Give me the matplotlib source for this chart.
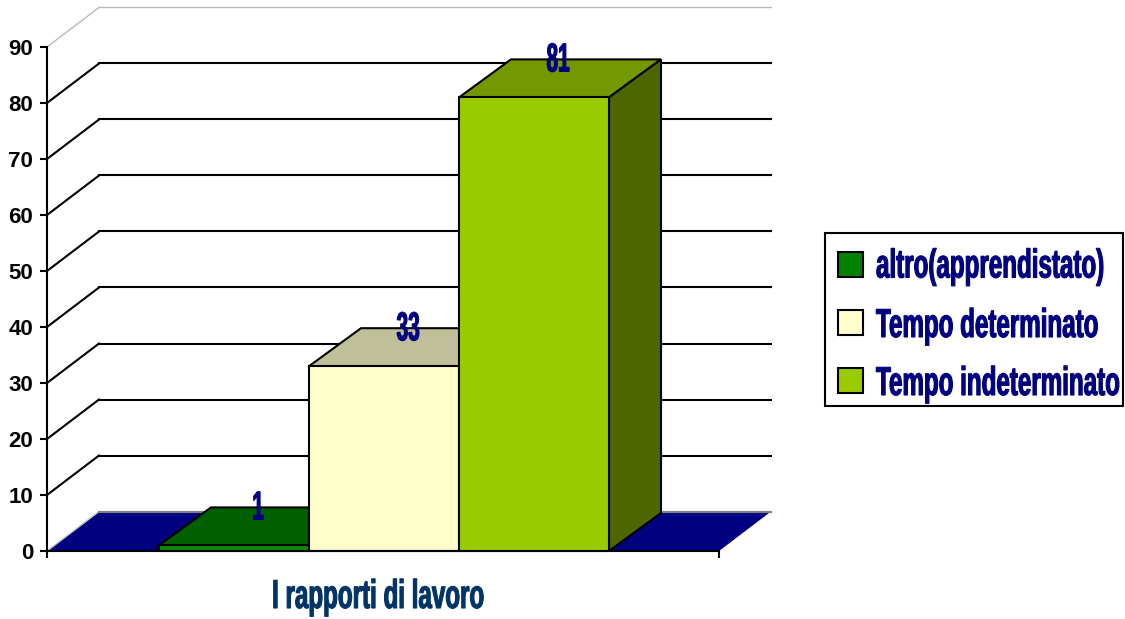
import matplotlib
matplotlib.use('Agg')
import matplotlib.pyplot as plt
from matplotlib.patches import Rectangle
from matplotlib.patheffects import AbstractPathEffect
from matplotlib.text import Text
from matplotlib.transforms import Affine2D, Bbox

categories = ['altro(apprendistato)', 'Tempo determinato', 'Tempo indeterminato']
values = [1, 33, 81]
yticks = [0, 10, 20, 30, 40, 50, 60, 70, 80, 90]
axis_title = 'I rapporti di lavoro'

front_colors = ['#0a8a0a', '#ffffcc', '#99cc00']
top_colors = ['#006000', '#bfbf99', '#739800']
side_colors = ['#004d00', '#80805f', '#4d6600']
legend_colors = ['#008000', '#ffffcc', '#99cc00']

W, H = 1125, 619
px_per_val = 504 / 90
px_per_bar = 150

# one x unit is one bar width, one y unit is one value
bar_w = 1.0
xmax = 672 / px_per_bar
dx = 52 / px_per_bar
dy_bar = 38 / px_per_val
dy_wall = 39.5 / px_per_val
lefts = [112 / px_per_bar, 262 / px_per_bar, 412 / px_per_bar]


# no condensed bold font is installed, so draw a smaller bold font stretched upward from its baseline
class Stretch(AbstractPathEffect):
    def __init__(self, text, sy, stroke):
        super().__init__()
        self.text = text
        self.sy = sy
        self.stroke = stroke

    def draw_path(self, renderer, gc, tpath, affine, rgbFace=None):
        y0 = self.text.anchor_y()
        aff = affine + Affine2D().translate(0, -y0).scale(1, self.sy).translate(0, y0)
        gc0 = renderer.new_gc()
        gc0.copy_properties(gc)
        gc0.set_linewidth(self.stroke)
        gc0.set_foreground(rgbFace)
        renderer.draw_path(gc0, tpath, aff, rgbFace)
        gc0.restore()


class TallText(Text):
    def __init__(self, x, y, s, size=17.4, sy=1.667, stroke=0.8, **kw):
        super().__init__(x, y, s, fontfamily='Liberation Sans', fontweight='bold', fontsize=size,
                         va='baseline', **kw)
        self.sy = sy
        self.set_path_effects([Stretch(self, sy, stroke)])

    def anchor_y(self):
        return self.get_transform().transform(self.get_position())[1]

    def get_window_extent(self, renderer=None, dpi=None):
        bb = super().get_window_extent(renderer, dpi)
        y0 = self.anchor_y()
        return Bbox.from_extents(bb.x0, y0 + (bb.y0 - y0) * self.sy, bb.x1, y0 + (bb.y1 - y0) * self.sy)


def fx(px):
    return px / W


def fy(py):
    return 1 - py / H


fig = plt.figure(figsize=(11.25, 6.19), dpi=100)
ax = fig.add_axes([fx(47), fy(551), 672 / W, 504 / H])
ax.set_xlim(0, xmax)
ax.set_ylim(0, 90)

# floor
ax.fill([0, dx, xmax + dx, xmax], [0, dy_wall, dy_wall, 0], color='#000080', lw=0, zorder=1, clip_on=False)
ax.plot([0, dx], [0, dy_wall], color='#c8c8c8', lw=1, zorder=1.5, clip_on=False)
ax.plot([dx, xmax + dx], [dy_wall, dy_wall], color='#808080', lw=1.5, zorder=1.5, clip_on=False)

# back wall lines
for v in yticks[1:]:
    c = '#b8b8b8' if v == 90 else 'black'
    lw = 1 if v == 90 else 1.5
    ax.plot([0, dx], [v, v + dy_wall], color=c, lw=lw, zorder=1.5, clip_on=False)
    ax.plot([dx, xmax + dx], [v + dy_wall, v + dy_wall], color=c, lw=lw, zorder=1.5, clip_on=False)

# bars, left to right so the next one covers the last one's side
for i in range(3):
    x0 = lefts[i]
    x1 = x0 + bar_w
    v = values[i]
    z = 2 + i
    ax.fill([x0, x0 + dx, x1 + dx, x1], [v, v + dy_bar, v + dy_bar, v], facecolor=top_colors[i],
            edgecolor='black', lw=1.5, zorder=z, clip_on=False)
    ax.fill([x1, x1 + dx, x1 + dx, x1], [0, dy_bar, v + dy_bar, v], facecolor=side_colors[i],
            edgecolor='black', lw=1.5, zorder=z, clip_on=False)
    ax.bar(x0, v, width=bar_w, align='edge', color=front_colors[i],
           edgecolor='black', lw=1.5, zorder=z + 0.1, clip_on=False)
    t = TallText(x0 + bar_w / 2 + dx / 2 - 0.012, v + dy_bar - 12 / px_per_val, str(v), size=15, sy=1.93,
                 color='#000080', ha='center', zorder=10, clip_on=False)
    ax.add_artist(t)

for s in ['top', 'right']:
    ax.spines[s].set_visible(False)
for s in ['left', 'bottom']:
    ax.spines[s].set_linewidth(1.5)
    ax.spines[s].set_zorder(6)

ax.set_yticks(yticks)
ax.set_yticklabels([str(t) for t in yticks], fontsize=16, fontweight='bold', family='Liberation Sans')
ax.tick_params(axis='y', length=5, width=1.5, pad=5)
ax.set_xticks([0, xmax])
ax.set_xticklabels(['', ''])
ax.tick_params(axis='x', length=5, width=1.5)

fig.add_artist(TallText(fx(378), fy(608), axis_title, color='#003366', ha='center',
                        transform=fig.transFigure))

# legend, built by hand so the box keeps its size
fig.add_artist(Rectangle((fx(825), fy(406)), 298 / W, 173 / H, facecolor='white', edgecolor='black',
                         lw=1.5, transform=fig.transFigure))
swatch_tops = [252, 310, 368]
text_bases = [277.5, 337, 395]
for i in range(3):
    top = swatch_tops[i]
    fig.add_artist(Rectangle((fx(838), fy(top + 25)), 25 / W, 25 / H, facecolor=legend_colors[i],
                             edgecolor='black', lw=1.5, transform=fig.transFigure))
    fig.add_artist(TallText(fx(876), fy(text_bases[i]), categories[i], color='#000080', ha='left',
                            transform=fig.transFigure))

fig.savefig('out.png', dpi=100)
